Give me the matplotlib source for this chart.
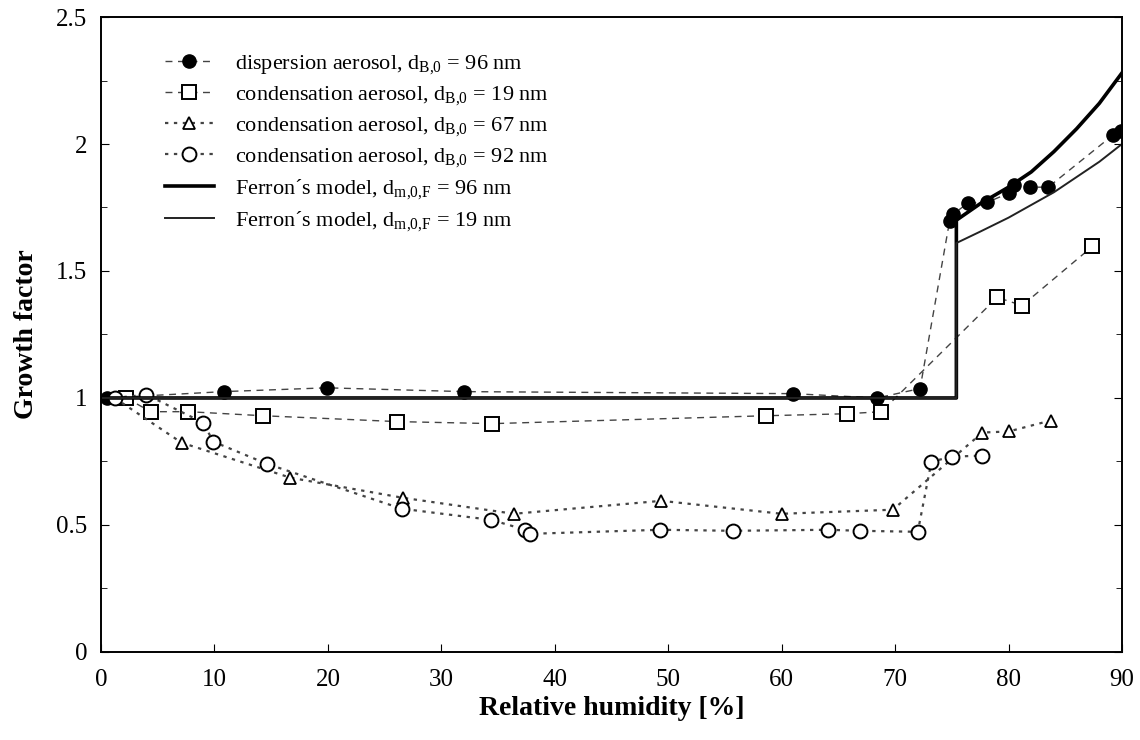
import numpy as np
import matplotlib
matplotlib.use("Agg")
import matplotlib.pyplot as plt
from matplotlib.ticker import MultipleLocator, FormatStrFormatter

rh_disp = [0.5, 10.8, 19.9, 32.0, 61.0, 68.4, 72.2, 74.8, 75.1, 76.4,
           78.1, 80.0, 80.5, 81.9, 83.5, 89.2, 89.9]
gf_disp = [1.0, 1.025, 1.04, 1.025, 1.017, 1.0, 1.037, 1.696, 1.723, 1.767,
           1.77, 1.806, 1.84, 1.83, 1.83, 2.035, 2.05]

rh_c19 = [2.2, 4.4, 7.7, 14.3, 26.1, 34.5, 58.6, 65.8, 68.8, 79.0, 81.2, 87.4]
gf_c19 = [1.0, 0.946, 0.946, 0.93, 0.907, 0.899, 0.93, 0.938, 0.946,
          1.396, 1.364, 1.597]

rh_c67 = [1.2, 7.1, 16.7, 26.6, 36.4, 49.4, 60.0, 69.8, 77.7, 80.0, 83.7]
gf_c67 = [1.0, 0.824, 0.686, 0.607, 0.544, 0.595, 0.544, 0.56, 0.864,
          0.868, 0.911]

rh_c92 = [1.2, 4.0, 9.0, 9.9, 14.6, 26.5, 34.4, 37.4, 37.8, 49.3, 55.7,
          64.1, 66.9, 72.0, 73.2, 75.0, 77.7]
gf_c92 = [1.0, 1.013, 0.903, 0.828, 0.741, 0.564, 0.52, 0.481, 0.465,
          0.481, 0.477, 0.481, 0.477, 0.473, 0.749, 0.769, 0.773]

# Ferron's model curves
rh_f96 = [0.0, 75.4, 75.4, 77.5, 80.0, 82.0, 84.0, 86.0, 88.0, 90.0]
gf_f96 = [1.0, 1.0, 1.70, 1.765, 1.83, 1.89, 1.97, 2.06, 2.16, 2.28]

rh_f19 = [0.0, 75.4, 75.4, 77.5, 80.0, 82.0, 84.0, 86.0, 88.0, 90.0]
gf_f19 = [1.0, 1.0, 1.61, 1.655, 1.71, 1.76, 1.81, 1.87, 1.93, 2.0]

labels = [
    r"dispersion aerosol, d$_{\mathrm{B{,}0}}$ = 96 nm",
    r"condensation aerosol, d$_{\mathrm{B{,}0}}$ = 19 nm",
    r"condensation aerosol, d$_{\mathrm{B{,}0}}$ = 67 nm",
    r"condensation aerosol, d$_{\mathrm{B{,}0}}$ = 92 nm",
    r"Ferron´s model, d$_{\mathrm{m{,}0{,}F}}$ = 96 nm",
    r"Ferron´s model, d$_{\mathrm{m{,}0{,}F}}$ = 19 nm",
]

plt.rcParams["font.family"] = ["Liberation Serif", "DejaVu Serif"]
plt.rcParams["mathtext.fontset"] = "custom"
plt.rcParams["mathtext.rm"] = "Liberation Serif"
plt.rcParams["mathtext.it"] = "Liberation Serif:italic"
plt.rcParams["mathtext.bf"] = "Liberation Serif:bold"

fig = plt.figure(figsize=(11.4, 7.4), dpi=100)
ax = fig.add_axes([0.0886, 0.119, 0.8956, 0.858])

gray = "#444444"
ax.plot(rh_disp, gf_disp, ls=(0, (5, 4)), color=gray, lw=1.0,
        marker="o", ms=9.5, mfc="black", mec="black", label=labels[0])
ax.plot(rh_c19, gf_c19, ls=(0, (5, 4)), color=gray, lw=1.0,
        marker="s", ms=10, mfc="white", mec="black", mew=1.4, label=labels[1])
ax.plot(rh_c67, gf_c67, ls=(0, (1.5, 2.5)), color=gray, lw=1.6,
        marker="^", ms=9, mfc="white", mec="black", mew=1.3, label=labels[2])
ax.plot(rh_c92, gf_c92, ls=(0, (1.5, 2.5)), color=gray, lw=1.6,
        marker="o", ms=10, mfc="white", mec="black", mew=1.4, label=labels[3])
ax.plot(rh_f96, gf_f96, color="black", lw=2.6, label=labels[4])
ax.plot(rh_f19, gf_f19, color="#222222", lw=1.4, label=labels[5])

ax.set_xlim(0, 90)
ax.set_ylim(0, 2.5)
ax.xaxis.set_major_locator(MultipleLocator(10))
ax.yaxis.set_major_locator(MultipleLocator(0.5))
ax.yaxis.set_minor_locator(MultipleLocator(0.25))
ax.yaxis.set_major_formatter(FormatStrFormatter("%g"))
ax.tick_params(axis="both", which="both", direction="in", labelsize=18)
ax.tick_params(axis="y", which="both", right=True)
ax.tick_params(axis="x", which="major", length=6, pad=12)
ax.tick_params(axis="y", which="major", length=6, pad=10)
ax.tick_params(axis="y", which="minor", length=4)
for s in ax.spines.values():
    s.set_linewidth(1.4)

ax.set_xlabel("Relative humidity [%]", fontsize=20, fontweight="bold",
              labelpad=4)
ax.set_ylabel("Growth factor", fontsize=20, fontweight="bold", labelpad=12)

ax.legend(loc="upper left", bbox_to_anchor=(0.054, 0.957), frameon=False,
          fontsize=16, numpoints=1, handlelength=2.2, handletextpad=0.95,
          labelspacing=0.36, borderaxespad=0)

fig.savefig("out.png", dpi=100)
